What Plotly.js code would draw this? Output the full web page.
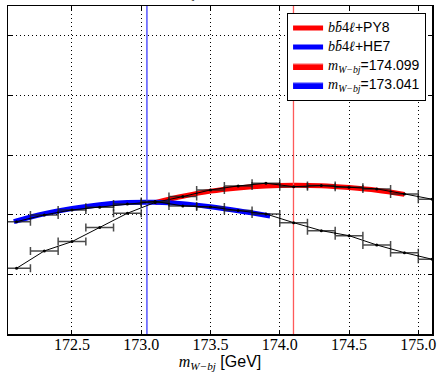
<!DOCTYPE html>
<html><head><meta charset="utf-8">
<script src="https://cdn.plot.ly/plotly-3.0.1.min.js"></script>
<style>html,body{margin:0;padding:0;background:#fff}#chart{width:437px;height:374px}</style>
</head><body><div id="chart"></div>
<script>
// bin centres (GeV) and bin half width
const binCenters = [172.1,172.3,172.5,172.7,172.9,173.1,173.3,173.5,173.7,173.9,174.1,174.3,174.5,174.7,174.9,175.1];
const binHalfWidth = 0.1;
// black data series
const dataPY8 = [1.102,1.393,1.549,1.784,2.025,2.206,2.304,2.416,2.483,2.528,2.471,2.488,2.461,2.433,2.349,2.260];
const dataHE7 = [1.884,1.997,2.081,2.126,2.181,2.223,2.148,2.130,2.070,2.013,1.867,1.733,1.649,1.493,1.364,1.253];
// fitted curves
const fitPY8X = [173.1,173.3,173.5,173.7,173.9,174.1,174.3,174.5,174.7,174.9];
const fitPY8Y = [2.203,2.310,2.396,2.450,2.483,2.495,2.487,2.456,2.411,2.341];
const fitHE7X = [172.08,172.3,172.5,172.7,172.9,173.1,173.3,173.5,173.7,173.93];
const fitHE7Y = [1.884,2.017,2.106,2.169,2.203,2.208,2.186,2.134,2.067,1.980];
// fitted peak positions
const peakPY8 = 174.099;
const peakHE7 = 173.041;
const yRange = [0, 5.5];
const xRange = [172.038, 175.099];
const xTickVals = [172.5,173.0,173.5,174.0,174.5,175.0];
const xTickText = ['172.5','173.0','173.5','174.0','174.5','175.0'];
const yTickVals = [0,1,2,3,4,5];

const SERIF = 'Liberation Serif';
const mlab = '<span style="font-family:Liberation Serif"><i>m</i><sub><i>W−bj</i></sub></span>';
const bblab = '<span style="font-family:Liberation Serif"><i>bb̄</i>4<i>ℓ</i></span>';
const big = s => '<span style="font-size:14px">' + s + '</span>';

const traces = [
  {x: fitPY8X, y: fitPY8Y, type:'scatter', mode:'lines', line:{color:'#ff0000', width:5, shape:'spline'}, name: big(bblab+'+PY8')},
  {x: fitHE7X, y: fitHE7Y, type:'scatter', mode:'lines', line:{color:'#0000ff', width:5, shape:'spline'}, name: big(bblab+'+HE7')},
  {x: [peakPY8, peakPY8], y: yRange, type:'scatter', mode:'lines', line:{color:'#ff5a5a', width:1.3}, fill:'toself', fillcolor:'#ff0000', name: big(mlab+'=174.099')},
  {x: [peakHE7, peakHE7], y: yRange, type:'scatter', mode:'lines', line:{color:'#3c3cff', width:1.3}, fill:'toself', fillcolor:'#0000ff', name: big(mlab+'=173.041')},
  {x: binCenters, y: dataPY8, type:'scatter', mode:'lines+markers', showlegend:false,
   line:{color:'#000', width:1}, marker:{color:'#000', size:3},
   error_x:{type:'constant', value:binHalfWidth, color:'rgba(30,30,30,0.8)', thickness:1.5, width:4}},
  {x: binCenters, y: dataHE7, type:'scatter', mode:'lines+markers', showlegend:false,
   line:{color:'#000', width:1}, marker:{color:'#000', size:3},
   error_x:{type:'constant', value:binHalfWidth, color:'rgba(30,30,30,0.8)', thickness:1.5, width:4}}
];

const layout = {
  width:437, height:374,
  margin:{l:8, r:5, t:6, b:40},
  paper_bgcolor:'#fff', plot_bgcolor:'#fff',
  showlegend:true,
  legend:{x:0.986, xanchor:'right', y:0.98, yanchor:'top', bgcolor:'#fff', bordercolor:'#000', borderwidth:1,
          font:{family:'Liberation Sans', size:11, color:'#000'}, tracegroupgap:0, itemwidth:30},
  xaxis:{range:xRange, tickmode:'array', tickvals:xTickVals, ticktext:xTickText,
         ticks:'inside', ticklen:4, tickcolor:'#000', showline:true, linecolor:'#000', linewidth:1.5, mirror:'allticks',
         showgrid:true, gridcolor:'#000', griddash:'1px,3px', gridwidth:1, zeroline:false,
         tickfont:{family:SERIF, size:16, color:'#000'}, ticklabelstandoff:-5,
         title:{text: '<span style="font-family:Liberation Serif"><i>m</i><sub><i>W−bj</i></sub></span> [GeV]', font:{family:'Liberation Sans', size:16, color:'#000'}, standoff:2}},
  yaxis:{range:yRange, tickmode:'array', tickvals:yTickVals, showticklabels:false,
         ticks:'inside', ticklen:4, tickcolor:'#000', showline:true, linecolor:'#000', linewidth:1.5, mirror:'allticks',
         showgrid:true, gridcolor:'#000', griddash:'1px,3px', gridwidth:1, zeroline:false},
  annotations:[{xref:'paper', yref:'paper', x:0.40, y:1, yanchor:'bottom', yshift:3, showarrow:false,
                text:'<i>m</i><sub><i>W−bj</i></sub>', font:{family:SERIF, size:16, color:'#000'}}]
};

Plotly.newPlot('chart', traces, layout, {displayModeBar:false, staticPlot:true});
</script></body></html>
